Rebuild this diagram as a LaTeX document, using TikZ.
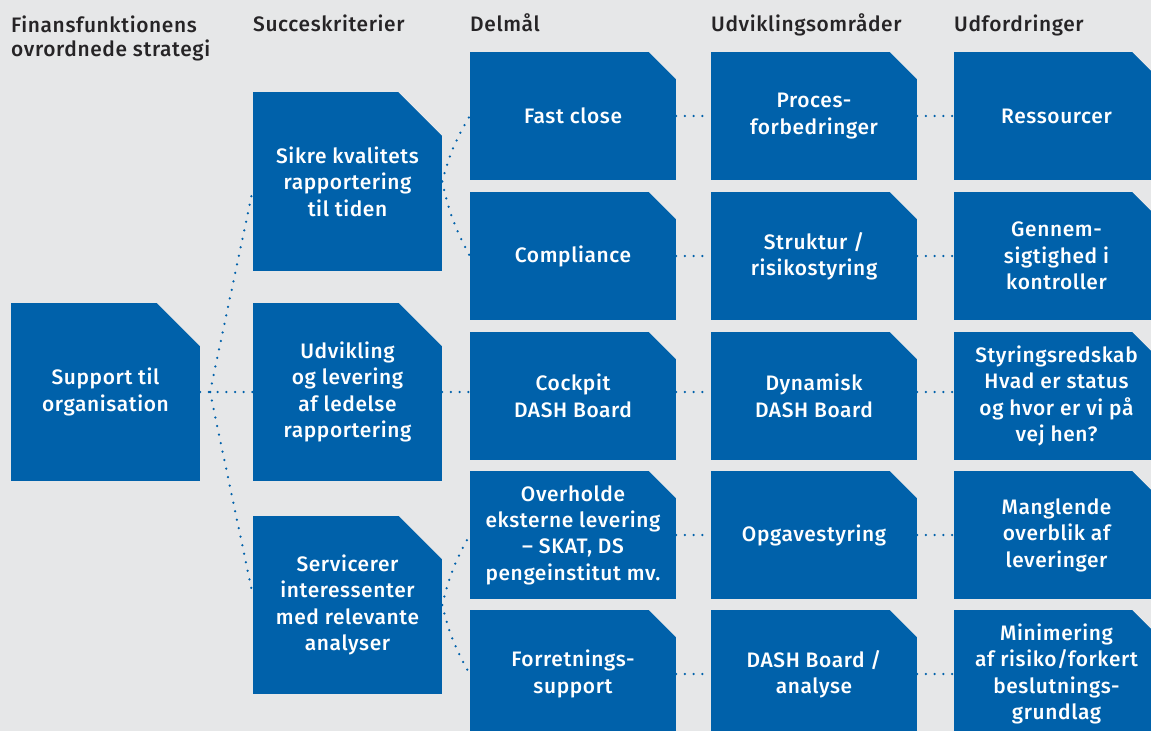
\documentclass[tikz,border=0pt]{standalone}
\usepackage{fontspec}
\setmainfont{Fira Sans}[LetterSpace=3]
\newfontfamily\medfont{Fira Sans Medium}[LetterSpace=3]

\definecolor{pagegray}{RGB}{230,231,232}
\definecolor{boxblue}{RGB}{0,97,170}
\definecolor{headgray}{RGB}{38,36,38}

\tikzset{
    box/.style={rectangle, fill=boxblue, text=white, align=center, inner sep=0pt,
        font=\medfont\fontsize{21}{26.5}\selectfont},
    bigbox/.style={box, minimum width=189bp, minimum height=178bp},
    smallbox/.style={box, minimum width=206bp, minimum height=128bp},
    head/.style={anchor=base west, inner sep=0pt, align=left, text=headgray,
        font=\medfont\fontsize{21}{25}\selectfont},
    link/.style={draw=boxblue, line width=2.5bp, line cap=round, dash pattern=on 0bp off 8.7bp}
}

\begin{document}
\begin{tikzpicture}[x=1bp, y=-1bp]
    \clip (0,0) rectangle (1151,731);
    \fill[pagegray] (0,0) rectangle (1151,731);

    % Column headers
    \node[head] (h1) at (11,57) {Finansfunktionens\\ovrordnede strategi};
    \node[head] (h2) at (253,32) {Succeskriterier};
    \node[head] (h3) at (470,32) {Delmål};
    \node[head] (h4) at (711,32) {Udviklingsområder};
    \node[head] (h5) at (954,32) {Udfordringer};

    % Strategy and success criteria
    \node[bigbox] (sup) at (105.5,392) {Support til\\organisation};
    \node[bigbox] (sik) at (347.5,181.5) {Sikre kvalitets\\rapportering\\til tiden};
    \node[bigbox] (udv) at (347.5,392) {Udvikling\\og levering\\af ledelse\\rapportering};
    \node[bigbox] (srv) at (347.5,605) {Servicerer\\interessenter\\med relevante\\analyser};

    % Delmaal
    \node[smallbox] (fast) at (573,116) {Fast close};
    \node[smallbox] (comp) at (573,256) {Compliance};
    \node[smallbox] (cock) at (573,396) {Cockpit\\DASH Board};
    \node[smallbox] (over) at (573,535) {Overholde\\eksterne levering\\– SKAT, DS\\pengeinstitut mv.};
    \node[smallbox] (forr) at (573,674) {Forretnings-\\support};

    % Udviklingsomraader
    \node[smallbox] (proc) at (814,116) {Proces-\\forbedringer};
    \node[smallbox] (struk) at (814,256) {Struktur /\\risikostyring};
    \node[smallbox] (dyn) at (814,396) {Dynamisk\\DASH Board};
    \node[smallbox] (opg) at (814,535) {Opgavestyring};
    \node[smallbox] (dash) at (814,674) {DASH Board /\\analyse};

    % Udfordringer
    \node[smallbox] (res) at (1056.5,116) {Ressourcer};
    \node[smallbox] (gen) at (1056.5,256) {Gennem-\\sigtighed i\\kontroller};
    \node[smallbox] (sty) at (1056.5,396) {Styringsredskab\\Hvad er status\\og hvor er vi på\\vej hen?};
    \node[smallbox] (mang) at (1056.5,535) {Manglende\\overblik af\\leveringer};
    \node[smallbox] (mini) at (1056.5,674) {Minimering\\af risiko/forkert\\beslutnings-\\grundlag};

    % Cut corners
    \foreach \n in {sup, sik, udv, srv}
        \fill[pagegray] ([xshift=1bp,yshift=1bp]\n.north east) -- ++(-45.5,0) -- ++(45.5,45.5) -- cycle;
    \foreach \n in {fast, comp, cock, over, forr, proc, struk, dyn, opg, dash, res, gen, sty, mang, mini}
        \fill[pagegray] ([xshift=1bp,yshift=1bp]\n.north east) -- ++(-29.5,0) -- ++(29.5,29.5) -- cycle;

    % Dotted links
    \coordinate (fork) at (210,392);
    \draw[link] (sup.east) -- (udv.west);
    \draw[link] (fork) -- ([yshift=-8.5bp]sik.west);
    \draw[link] (fork) -- ([yshift=10bp]srv.west);

    \draw[link] (sik.east) to[bend left=8] (fast.west);
    \draw[link] (sik.east) to[bend right=8] (comp.west);
    \draw[link] (udv.east) -- ([yshift=4bp]cock.west);
    \draw[link] (srv.east) to[bend left=8] (over.west);
    \draw[link] (srv.east) to[bend right=8] (forr.west);

    \draw[link] (fast.east) -- (proc.west);
    \draw[link] (comp.east) -- (struk.west);
    \draw[link] ([yshift=4bp]cock.east) -- ([yshift=4bp]dyn.west);
    \draw[link] (over.east) -- (opg.west);
    \draw[link] (forr.east) -- (dash.west);

    \draw[link] (proc.east) -- (res.west);
    \draw[link] (struk.east) -- (gen.west);
    \draw[link] ([yshift=4bp]dyn.east) -- ([yshift=4bp]sty.west);
    \draw[link] (opg.east) -- (mang.west);
    \draw[link] (dash.east) -- (mini.west);
\end{tikzpicture}
\end{document}
